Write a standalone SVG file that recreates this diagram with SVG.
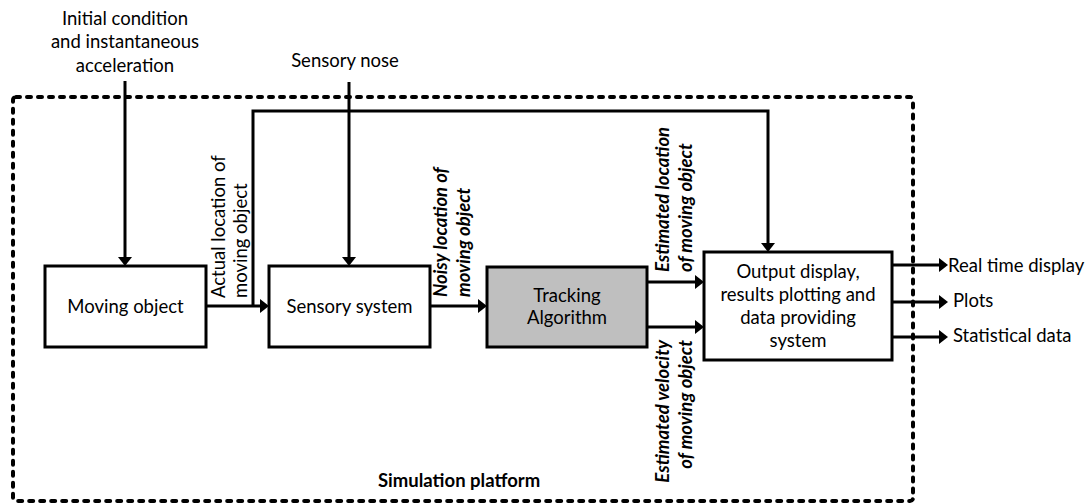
<svg xmlns="http://www.w3.org/2000/svg" width="1091" height="504" viewBox="0 0 1091 504">
  <style>
    text { font-family: Lato, "Liberation Sans", sans-serif; font-size: 18.5px; fill: #000; }
    .c { text-anchor: middle; }
    .bi { font-weight: bold; font-style: italic; }
    .b { font-weight: bold; }
    .box { fill: #fff; stroke: #000; stroke-width: 3; }
    .grey { fill: #bfbfbf; }
    .wire { fill: none; stroke: #000; stroke-width: 3; }
    .arrow { marker-end: url(#head); }
    .frame { fill: none; stroke: #000; stroke-width: 4; stroke-dasharray: 4 7; stroke-linecap: round; }
  </style>
  <defs>
    <marker id="head" markerUnits="userSpaceOnUse" viewBox="0 -7 9 14" markerWidth="9" markerHeight="14" refX="0" refY="0" orient="auto">
      <path d="M0,-7 L9,0 L0,7 z" fill="#000"/>
    </marker>
  </defs>

  <!-- simulation platform boundary -->
  <rect class="frame" x="13" y="97" width="900" height="404" rx="3"/>
  <text class="b" x="378" y="487">Simulation platform</text>

  <!-- external inputs -->
  <g id="input-initial">
    <text class="c" x="125" y="25">Initial condition</text>
    <text class="c" x="125" y="48">and instantaneous</text>
    <text class="c" x="125" y="72">acceleration</text>
  </g>
  <g id="input-noise">
    <text class="c" x="345" y="67">Sensory nose</text>
  </g>

  <!-- connectors -->
  <g id="connectors">
    <path class="wire arrow" d="M125,81 V257"/>
    <path class="wire arrow" d="M349,82 V257"/>
    <path class="wire arrow" d="M206,306 H260"/>
    <path class="wire arrow" d="M253,306 V111 H768 V243"/>
    <path class="wire arrow" d="M430,306 H478"/>
    <path class="wire arrow" d="M647,282 H695"/>
    <path class="wire arrow" d="M647,327 H695"/>
    <path class="wire arrow" d="M892,265 H939"/>
    <path class="wire arrow" d="M892,302 H939"/>
    <path class="wire arrow" d="M892,337 H939"/>

    <text transform="translate(225,298) rotate(-90)">Actual location of</text>
    <text transform="translate(247,298) rotate(-90)">moving object</text>

    <text class="bi" transform="translate(447,297) rotate(-90)">Noisy location of</text>
    <text class="bi" transform="translate(470,297) rotate(-90)">moving object</text>

    <text class="bi" transform="translate(669,272) rotate(-90)">Estimated location</text>
    <text class="bi" transform="translate(692,272) rotate(-90)">of moving object</text>

    <text class="bi" text-anchor="end" transform="translate(669,340) rotate(-90)">Estimated velocity</text>
    <text class="bi" text-anchor="end" transform="translate(692,340) rotate(-90)">of moving object</text>

    <text x="948" y="272">Real time display</text>
    <text x="953" y="307">Plots</text>
    <text x="953" y="342">Statistical data</text>
  </g>

  <!-- blocks -->
  <g id="moving-object">
    <rect class="box" x="45" y="266" width="161" height="81"/>
    <text class="c" x="125.5" y="313">Moving object</text>
  </g>
  <g id="sensory-system">
    <rect class="box" x="269" y="266" width="161" height="81"/>
    <text class="c" x="349.5" y="313">Sensory system</text>
  </g>
  <g id="tracking-algorithm">
    <rect class="box grey" x="487" y="267" width="160" height="80"/>
    <text class="c" x="567" y="302">Tracking</text>
    <text class="c" x="567" y="324">Algorithm</text>
  </g>
  <g id="output-system">
    <rect class="box" x="704" y="252" width="188" height="108"/>
    <text class="c" x="798" y="278">Output display,</text>
    <text class="c" x="798" y="301">results plotting and</text>
    <text class="c" x="798" y="324">data providing</text>
    <text class="c" x="798" y="347">system</text>
  </g>
</svg>
